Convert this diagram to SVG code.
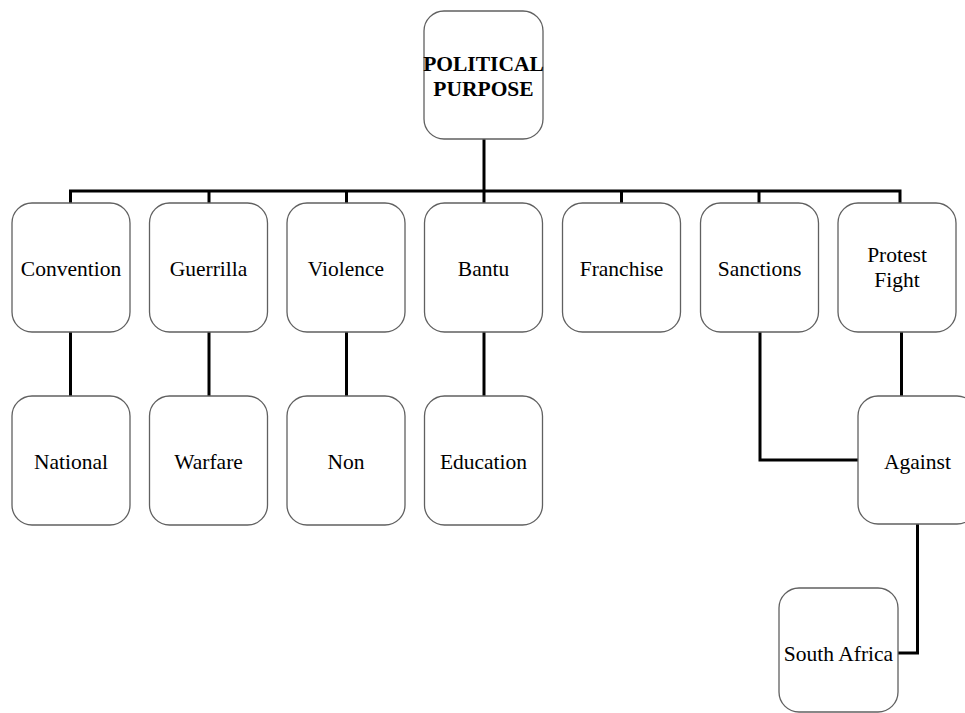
<svg xmlns="http://www.w3.org/2000/svg" width="965" height="713" viewBox="0 0 965 713">
  <style>
    .box { fill: #ffffff; stroke: #606060; stroke-width: 1.3; }
    text { font-family: 'Liberation Serif', 'DejaVu Serif', serif; font-size: 21.5px; fill: #000000; text-anchor: middle; }
    .bold { font-weight: bold; }
    .wire { fill: none; stroke: #000000; stroke-width: 3; stroke-linejoin: miter; }
  </style>

  <!-- connectors -->
  <g id="connectors">
    <path class="wire" d="M484 139 V191"/>
    <path class="wire" d="M70.5 203 V191 H900 V203"/>
    <path class="wire" d="M209 191 V203"/>
    <path class="wire" d="M346.5 191 V203"/>
    <path class="wire" d="M484 191 V203"/>
    <path class="wire" d="M621.5 191 V203"/>
    <path class="wire" d="M759 191 V203"/>
    <path class="wire" d="M70.5 332 V396"/>
    <path class="wire" d="M209 332 V396"/>
    <path class="wire" d="M346.5 332 V396"/>
    <path class="wire" d="M484 332 V396"/>
    <path class="wire" d="M760 332 V460 H858"/>
    <path class="wire" d="M901.5 332 V396"/>
    <path class="wire" d="M917.5 524 V653 H898"/>
  </g>

  <!-- root -->
  <g id="node-political-purpose">
    <rect class="box" x="424" y="11" width="119" height="128" rx="20"/>
    <text class="bold" x="483.5" y="70.5" font-family="Liberation Serif, serif">POLITICAL</text>
    <text class="bold" x="483.5" y="95.5" font-family="Liberation Serif, serif">PURPOSE</text>
  </g>

  <!-- first row -->
  <g id="node-convention">
    <rect class="box" x="12" y="203" width="118" height="129" rx="20"/>
    <text x="71" y="275.5">Convention</text>
  </g>
  <g id="node-guerrilla">
    <rect class="box" x="149.5" y="203" width="118" height="129" rx="20"/>
    <text x="208.5" y="275.5">Guerrilla</text>
  </g>
  <g id="node-violence">
    <rect class="box" x="287" y="203" width="118" height="129" rx="20"/>
    <text x="346" y="275.5">Violence</text>
  </g>
  <g id="node-bantu">
    <rect class="box" x="424.5" y="203" width="118" height="129" rx="20"/>
    <text x="483.5" y="275.5">Bantu</text>
  </g>
  <g id="node-franchise">
    <rect class="box" x="562.5" y="203" width="118" height="129" rx="20"/>
    <text x="621.5" y="275.5">Franchise</text>
  </g>
  <g id="node-sanctions">
    <rect class="box" x="700.5" y="203" width="118" height="129" rx="20"/>
    <text x="759.5" y="275.5">Sanctions</text>
  </g>
  <g id="node-protest-fight">
    <rect class="box" x="838" y="203" width="118" height="129" rx="20"/>
    <text x="897" y="262">Protest</text>
    <text x="897" y="287">Fight</text>
  </g>

  <!-- second row -->
  <g id="node-national">
    <rect class="box" x="12" y="396" width="118" height="129" rx="20"/>
    <text x="71" y="468.5">National</text>
  </g>
  <g id="node-warfare">
    <rect class="box" x="149.5" y="396" width="118" height="129" rx="20"/>
    <text x="208.5" y="468.5">Warfare</text>
  </g>
  <g id="node-non">
    <rect class="box" x="287" y="396" width="118" height="129" rx="20"/>
    <text x="346" y="468.5">Non</text>
  </g>
  <g id="node-education">
    <rect class="box" x="424.5" y="396" width="118" height="129" rx="20"/>
    <text x="483.5" y="468.5">Education</text>
  </g>
  <g id="node-against">
    <rect class="box" x="858" y="396" width="119" height="128" rx="20"/>
    <text x="917.5" y="468.5">Against</text>
  </g>

  <!-- third row -->
  <g id="node-south-africa">
    <rect class="box" x="779" y="588" width="119" height="124" rx="20"/>
    <text x="838.5" y="661">South Africa</text>
  </g>
</svg>
